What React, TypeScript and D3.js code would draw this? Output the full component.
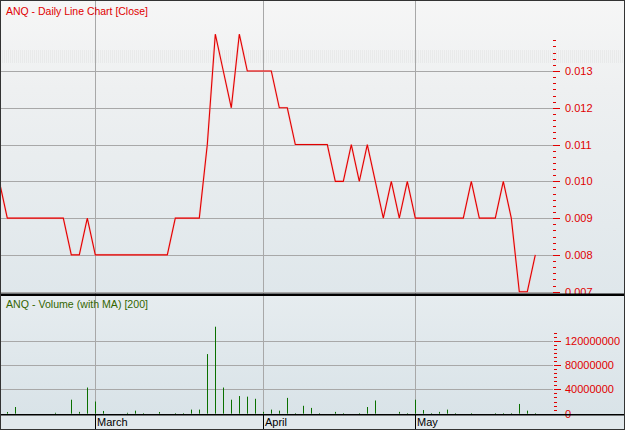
import React from "react";
import * as d3 from "d3";

// ---- data (trading-day index → value) ----
const closeDays = [-1,0,1,2,3,4,5,6,7,8,9,10,11,12,13,14,15,16,17,18,19,20,21,22,23,24,25,26,27,28,29,30,31,32,33,34,35,36,37,38,39,40,41,42,43,44,45,46,47,48,49,50,51,52,53,54,55,56,57,58,59,60,61,62,63,64,65,66];
const closeValues = [0.010,0.009,0.009,0.009,0.009,0.009,0.009,0.009,0.009,0.008,0.008,0.009,0.008,0.008,0.008,0.008,0.008,0.008,0.008,0.008,0.008,0.008,0.009,0.009,0.009,0.009,0.011,0.014,0.013,0.012,0.014,0.013,0.013,0.013,0.013,0.012,0.012,0.011,0.011,0.011,0.011,0.011,0.010,0.010,0.011,0.010,0.011,0.010,0.009,0.010,0.009,0.010,0.009,0.009,0.009,0.009,0.009,0.009,0.009,0.010,0.009,0.009,0.009,0.010,0.009,0.007,0.007,0.008];
// volume in millions, days 0..66
const volumeValues = [2.8,11,0,0,0,0,1.5,0,23,3,43,20,4.5,0,0,1.5,5,1,0,2.8,0,1,1,6.7,6.7,98,143,43,23,29,28,24.5,3,6.7,5,26,1,13,9.5,1,0,3,1,0,1,11,21.7,0,0,3,1,23,6,1,3,6.7,1,0,1,0,0,1,1,1,16,5,1];
const monthLabels = ["March", "April", "May"];
const monthDays = [11, 32, 51];
const priceTicks = [0.007, 0.008, 0.009, 0.010, 0.011, 0.012, 0.013];
const volumeTicks = [0, 40, 80, 120];

const W = 625, H = 430;
const AXIS_X = 553;

export default function App() {
  const x = d3.scaleLinear().domain([0, 66]).range([7.3, 535.3]);
  const yP = d3.scaleLinear().domain([0.007, 0.013]).range([291.7, 71]);
  const yV = d3.scaleLinear().domain([0, 120]).range([413.7, 340.7]);

  const line = d3
    .line<number>()
    .x((_, i) => x(closeDays[i]))
    .y((d) => yP(d));

  const priceMinor: number[] = [];
  for (let k = 0; k <= 41; k++) priceMinor.push(0.007 + (k * 0.001) / 6);
  const volMinor: number[] = [];
  for (let k = 0; k <= 20; k++) volMinor.push((k * 40) / 6);

  const red = "#e00000";
  const font = "'Liberation Sans', Arial, sans-serif";

  return (
    <svg
      width={W}
      height={H}
      style={{ position: "absolute", left: 0, top: 0, display: "block" }}
      fontFamily={font}
    >
      <defs>
        <linearGradient id="gp" x1="0" y1="0" x2="0" y2="1">
          <stop offset="0" stopColor="#f6f6f6" />
          <stop offset="0.3" stopColor="#eef0f1" />
          <stop offset="1" stopColor="#dfe7eb" />
        </linearGradient>
        <linearGradient id="gv" x1="0" y1="0" x2="0" y2="1">
          <stop offset="0" stopColor="#e6ecef" />
          <stop offset="1" stopColor="#d9e3e8" />
        </linearGradient>
        <pattern id="stripes" width="2" height="10" patternUnits="userSpaceOnUse">
          <rect x="0" y="0" width="1" height="10" fill="#d8d8d8" opacity="0.35" />
        </pattern>
        <clipPath id="cp">
          <rect x={1} y={1} width={623} height={292} />
        </clipPath>
      </defs>

      {/* backgrounds */}
      <rect x={0} y={0} width={W} height={294} fill="url(#gp)" />
      <rect x={0} y={50} width={W} height={13} fill="url(#stripes)" />
      <rect x={0} y={296} width={W} height={119} fill="url(#gv)" />
      <rect x={0} y={415} width={W} height={15} fill="#e1e8ec" />

      {/* price grid */}
      {priceTicks.map((t) => (
        <line key={"pg" + t} x1={0} x2={AXIS_X} y1={Math.round(yP(t)) + 0.5} y2={Math.round(yP(t)) + 0.5} stroke="#a8a8a8" />
      ))}
      {/* volume grid */}
      {volumeTicks.slice(1).map((t) => (
        <line key={"vg" + t} x1={0} x2={AXIS_X} y1={Math.round(yV(t)) + 0.5} y2={Math.round(yV(t)) + 0.5} stroke="#a8a8a8" />
      ))}
      {/* month verticals */}
      {monthDays.map((d) => (
        <g key={"m" + d}>
          <line x1={Math.round(x(d)) + 0.5} x2={Math.round(x(d)) + 0.5} y1={0} y2={415} stroke="#a8a8a8" />
          <line x1={Math.round(x(d)) + 0.5} x2={Math.round(x(d)) + 0.5} y1={415} y2={430} stroke="#000" />
        </g>
      ))}

      {/* price line */}
      <path d={line(closeValues) || ""} fill="none" stroke="#ffb0b0" strokeWidth={2.2} clipPath="url(#cp)" opacity={0.5} />
      <path d={line(closeValues) || ""} fill="none" stroke="#e00000" strokeWidth={1.1} clipPath="url(#cp)" />

      {/* volume bars */}
      {volumeValues.map((v, i) =>
        v > 0 ? (
          <line
            key={"v" + i}
            x1={Math.round(x(i)) + 0.5}
            x2={Math.round(x(i)) + 0.5}
            y1={yV(0)}
            y2={yV(v)}
            stroke="#0a7000"
            strokeWidth={1}
          />
        ) : null
      )}

      {/* price axis ticks */}
      {priceMinor.map((t, k) => (
        <line
          key={"pm" + k}
          x1={AXIS_X}
          x2={k % 6 === 0 ? AXIS_X + 7 : AXIS_X + 3}
          y1={Math.round(yP(t)) + 0.5}
          y2={Math.round(yP(t)) + 0.5}
          stroke={red}
        />
      ))}
      {priceTicks.map((t) => (
        <text key={"pl" + t} x={565} y={yP(t) + 4} fontSize={11} fill={red}>
          {d3.format(".3f")(t)}
        </text>
      ))}

      {/* volume axis ticks */}
      {volMinor.map((t, k) => (
        <line
          key={"vm" + k}
          x1={AXIS_X + 1}
          x2={k % 6 === 0 ? AXIS_X + 8 : AXIS_X + 4}
          y1={Math.round(yV(t)) + 0.5}
          y2={Math.round(yV(t)) + 0.5}
          stroke={red}
        />
      ))}
      {volumeTicks.map((t) => (
        <text key={"vl" + t} x={565} y={yV(t) + 4} fontSize={11} fill={red}>
          {String(t * 1000000)}
        </text>
      ))}

      {/* titles */}
      <text x={6} y={15} fontSize={11} fill={red} textLength={142} lengthAdjust="spacingAndGlyphs">
        ANQ - Daily Line Chart [Close]
      </text>
      <text x={6} y={308} fontSize={11} fill="#336600" textLength={142} lengthAdjust="spacingAndGlyphs">
        ANQ - Volume (with MA) [200]
      </text>

      {/* month labels */}
      {monthDays.map((d, i) => (
        <text key={"ml" + i} x={Math.round(x(d)) + 2} y={426} fontSize={11} fill="#000">
          {monthLabels[i]}
        </text>
      ))}

      {/* panel separators and border */}
      <rect x={0} y={293.5} width={W} height={2.5} fill="#000" />
      <rect x={0} y={414} width={W} height={1.5} fill="#000" />
      <rect x={0.5} y={0.5} width={W - 1} height={H - 1} fill="none" stroke="#333" />
    </svg>
  );
}
